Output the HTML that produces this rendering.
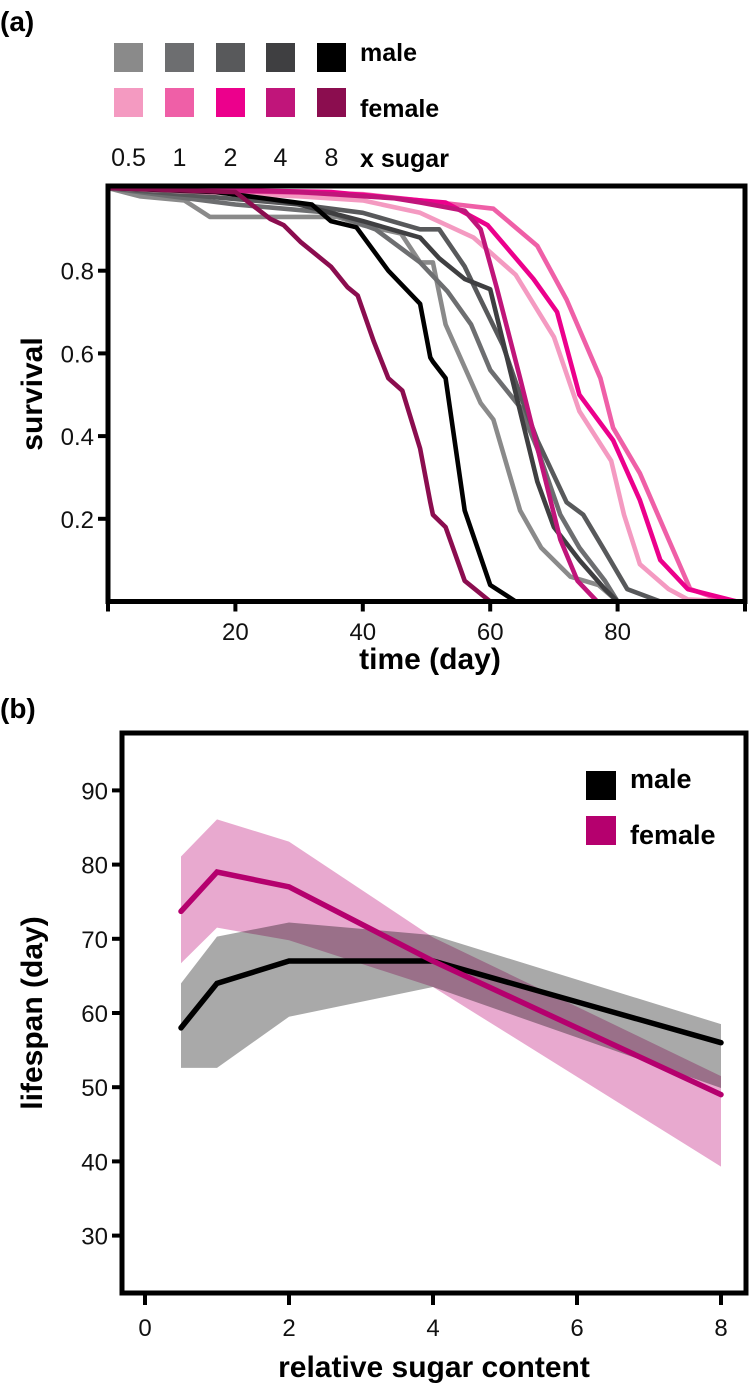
<!DOCTYPE html>
<html><head><meta charset="utf-8"><style>
html,body{margin:0;padding:0;background:#fff;}
svg{display:block;font-family:"Liberation Sans",Arial,sans-serif;}
.tk{font-size:24px;fill:#111;}
.bl{font-weight:bold;font-size:28px;fill:#000;}
</style></head><body>
<svg id="fig" width="750" height="1390" viewBox="0 0 750 1390">
<text x="0" y="31" class="bl">(a)</text>
<g id="legA"></g>
<text x="360" y="61" class="bl" style="font-size:25px">male</text>
<text x="360" y="117" class="bl" style="font-size:25px">female</text>
<text x="360" y="167" class="bl" style="font-size:25px">x sugar</text>
<g id="plotA"></g>
<text x="430" y="669" text-anchor="middle" class="bl" style="font-size:30px">time (day)</text>
<text transform="translate(42,394) rotate(-90)" text-anchor="middle" class="bl" style="font-size:30px">survival</text>
<text x="0" y="718" class="bl">(b)</text>
<g id="plotB"></g>
<text x="434" y="1377" text-anchor="middle" class="bl" style="font-size:30px">relative sugar content</text>
<text transform="translate(42,1013) rotate(-90)" text-anchor="middle" class="bl" style="font-size:30px">lifespan (day)</text>
<rect x="586" y="771" width="30" height="29" fill="#000"/>
<text x="630" y="788" class="bl" style="font-size:27px">male</text>
<rect x="586" y="816" width="30" height="29" fill="#b5006e"/>
<text x="630" y="844" class="bl" style="font-size:27px">female</text>
</svg>
<script>
// ---------- Panel (a) data ----------
const sugarLevels = ["0.5","1","2","4","8"];
const maleColors = ["#8a8a8a","#6d6e70","#58595b","#3f3f41","#000000"];
const femaleColors = ["#f49ac1","#ef5fa7","#ec008c","#c0157a","#8b0d4f"];
const xTicksA = [0,20,40,60,80,100];
const xTickLabelsA = ["","20","40","60","80",""];
const yTicksA = [0.2,0.4,0.6,0.8];
const yTickLabelsA = ["0.2","0.4","0.6","0.8"];

const m05Days = [0,5,12,15,16,36,40,46,49,51,53,58.5,60.5,64.7,68,72.6,77,80];
const m05Surv = [1,0.98,0.97,0.94,0.93,0.93,0.91,0.89,0.82,0.82,0.67,0.48,0.44,0.22,0.13,0.06,0.04,0];
const m1Days = [0,10,20,35,42,49,53.3,57,60,64.7,67.4,71,74,78,80];
const m1Surv = [1,0.98,0.96,0.94,0.9,0.82,0.75,0.67,0.56,0.47,0.37,0.21,0.13,0.05,0];
const m2Days = [0,15,30,40,49,52,56,58.5,62,64.7,67.4,72,74.6,77.7,81.5,86.7];
const m2Surv = [1,0.98,0.96,0.94,0.9,0.9,0.81,0.73,0.62,0.5,0.39,0.24,0.21,0.13,0.03,0];
const m4Days = [0,20,30,40,49,52,56,60,62,64.7,67.4,70,74,78,80];
const m4Surv = [1,0.99,0.96,0.92,0.88,0.83,0.78,0.755,0.63,0.46,0.29,0.18,0.1,0.03,0];
const m8Days = [0,17,32,35,39,44,49,50.6,51,53,56,60,64];
const m8Surv = [1,0.99,0.96,0.92,0.905,0.8,0.72,0.59,0.58,0.54,0.22,0.04,0];
const f05Days = [0,30,40,49,57.4,64,70,74,79,81,83.5,88,91,98];
const f05Surv = [1,0.98,0.97,0.94,0.88,0.79,0.64,0.46,0.34,0.21,0.09,0.03,0.005,0];
const f1Days = [0,40,49,60.5,67.4,72,77.3,79.3,83.5,88,91.4,96,99];
const f1Surv = [1,0.985,0.97,0.95,0.86,0.73,0.54,0.42,0.31,0.15,0.03,0.005,0];
const f2Days = [0,35,49,53,59.6,66.8,70.5,74,79.3,83.5,86.7,91,98.7];
const f2Surv = [1,0.99,0.97,0.965,0.91,0.78,0.7,0.5,0.39,0.245,0.1,0.03,0];
const f4Days = [0,30,45,49,56,58.5,61,64.7,68,71,73.7,76.8];
const f4Surv = [1,0.99,0.975,0.965,0.945,0.9,0.76,0.54,0.335,0.15,0.05,0];
const f8Days = [0,20,25.5,27.6,30.2,35,37.6,39.2,41.7,44,46.2,49,50.6,51,53,56,60];
const f8Surv = [1,0.99,0.925,0.91,0.87,0.81,0.76,0.74,0.63,0.54,0.51,0.37,0.24,0.21,0.18,0.05,0];

// ---------- Panel (b) data ----------
const sugarX = [0.5,1,2,4,8];
const maleLifespan = [58,64,67,67,56];
const maleUpper = [64,70.3,72.2,70.5,58.5];
const maleLower = [52.6,52.6,59.5,63.5,49.9];
const femaleLifespan = [73.7,79,77,67,49];
const femaleUpper = [81.1,86.1,83.1,70.2,51.5];
const femaleLower = [66.7,71.5,69.8,63.5,39.3];
const xTicksB = [0,2,4,6,8];
const yTicksB = [30,40,50,60,70,80,90];

const NS = "http://www.w3.org/2000/svg";
function mk(tag, attrs, parent){const e=document.createElementNS(NS,tag);for(const k in attrs)e.setAttribute(k,attrs[k]);parent.appendChild(e);return e;}

// legend a
const legA = document.getElementById('legA');
const swX = [114,165,216,266,317];
sugarLevels.forEach((s,i)=>{
  const r1 = mk('rect',{x:swX[i],y:43,width:29,height:29,fill:maleColors[i]},legA);
  
  
  const r2 = mk('rect',{x:swX[i],y:88,width:29,height:29,fill:femaleColors[i]},legA);
  
  
  const t = mk('text',{x:swX[i]+14.5,y:166,'text-anchor':'middle','class':'tk',style:'font-size:25px'},legA);
  t.textContent = s;
  
  
});

// panel a axes
const A = {x0:108,x1:745,y0:601.5,y1:188};
const xa = d => A.x0 + d*(A.x1-A.x0)/100;
const ya = s => A.y0 - s*(A.y0-A.y1);
const gA = document.getElementById('plotA');
const series = [
  [m05Days,m05Surv,maleColors[0],'male-0.5'],[m1Days,m1Surv,maleColors[1],'male-1'],
  [m2Days,m2Surv,maleColors[2],'male-2'],[m4Days,m4Surv,maleColors[3],'male-4'],
  [f05Days,f05Surv,femaleColors[0],'female-0.5'],[f1Days,f1Surv,femaleColors[1],'female-1'],
  [f2Days,f2Surv,femaleColors[2],'female-2'],[f4Days,f4Surv,femaleColors[3],'female-4'],
  [m8Days,m8Surv,maleColors[4],'male-8'],[f8Days,f8Surv,femaleColors[4],'female-8']
];
series.forEach(([d,s,c,n])=>{
  const pts = d.map((v,i)=>xa(v).toFixed(1)+','+ya(s[i]).toFixed(1)).join(' ');
  const p = mk('polyline',{points:pts,fill:'none',stroke:c,'stroke-width':4.6,'stroke-linejoin':'round'},gA);
  
  
});
const boxA = mk('rect',{x:A.x0,y:A.y1-2,width:A.x1-A.x0,height:A.y0-A.y1+2,fill:'none',stroke:'#000','stroke-width':5},gA);


xTicksA.forEach((t,i)=>{
  const l = mk('line',{x1:xa(t),x2:xa(t),y1:A.y0,y2:A.y0+10,stroke:'#000','stroke-width':4},gA);
  
  
  if(xTickLabelsA[i]){
    const tx = mk('text',{x:xa(t),y:640,'text-anchor':'middle','class':'tk'},gA);
    tx.textContent = xTickLabelsA[i];
    
    
  }
});
yTicksA.forEach((t,i)=>{
  const l = mk('line',{x1:A.x0-10,x2:A.x0,y1:ya(t),y2:ya(t),stroke:'#000','stroke-width':4},gA);
  
  
  const tx = mk('text',{x:A.x0-14,y:ya(t)+9,'text-anchor':'end','class':'tk'},gA);
  tx.textContent = yTickLabelsA[i];
  
  
});

// panel b
const B = {x0:122,x1:746,yTop:733,yBot:1293};
const xb = u => 145 + u*72;
const yb = v => 1013 - (v-60)*7.42;
const gB = document.getElementById('plotB');
function band(up,lo,fill,name,extra){
  const pts = sugarX.map((u,i)=>xb(u)+','+yb(up[i])).concat(sugarX.slice().reverse().map((u,j)=>{const i=sugarX.length-1-j;return xb(u)+','+yb(lo[i]);})).join(' ');
  const p = mk('polygon',Object.assign({points:pts,fill:fill},extra||{}),gB);
  
  
}
function line(vals,c,name){
  const p = mk('polyline',{points:sugarX.map((u,i)=>xb(u)+','+yb(vals[i])).join(' '),fill:'none',stroke:c,'stroke-width':5.5,'stroke-linecap':'round'},gB);
  
  
}
band(maleUpper,maleLower,'#a9a9a9','male-ci-band');
line(maleLifespan,'#000','male-lifespan-line');
band(femaleUpper,femaleLower,'#e7a5cd','female-ci-band',{style:'mix-blend-mode:multiply',opacity:'0.95'});
line(femaleLifespan,'#b5006e','female-lifespan-line');
const boxB = mk('path',{d:`M${B.x0},${B.yTop} H${B.x1} V${B.yBot} H${B.x0} Z`,fill:'none',stroke:'#000','stroke-width':5},gB);


xTicksB.forEach(t=>{
  const l = mk('line',{x1:xb(t),x2:xb(t),y1:B.yBot,y2:B.yBot+12,stroke:'#000','stroke-width':4},gB);
  
  
  const tx = mk('text',{x:xb(t),y:1336,'text-anchor':'middle','class':'tk'},gB);
  tx.textContent = t;
  
  
});
yTicksB.forEach(t=>{
  const l = mk('line',{x1:B.x0-10,x2:B.x0,y1:yb(t),y2:yb(t),stroke:'#000','stroke-width':4},gB);
  
  
  const tx = mk('text',{x:B.x0-14,y:yb(t)+9,'text-anchor':'end','class':'tk'},gB);
  tx.textContent = t;
  
  
});
</script>
</body></html>
